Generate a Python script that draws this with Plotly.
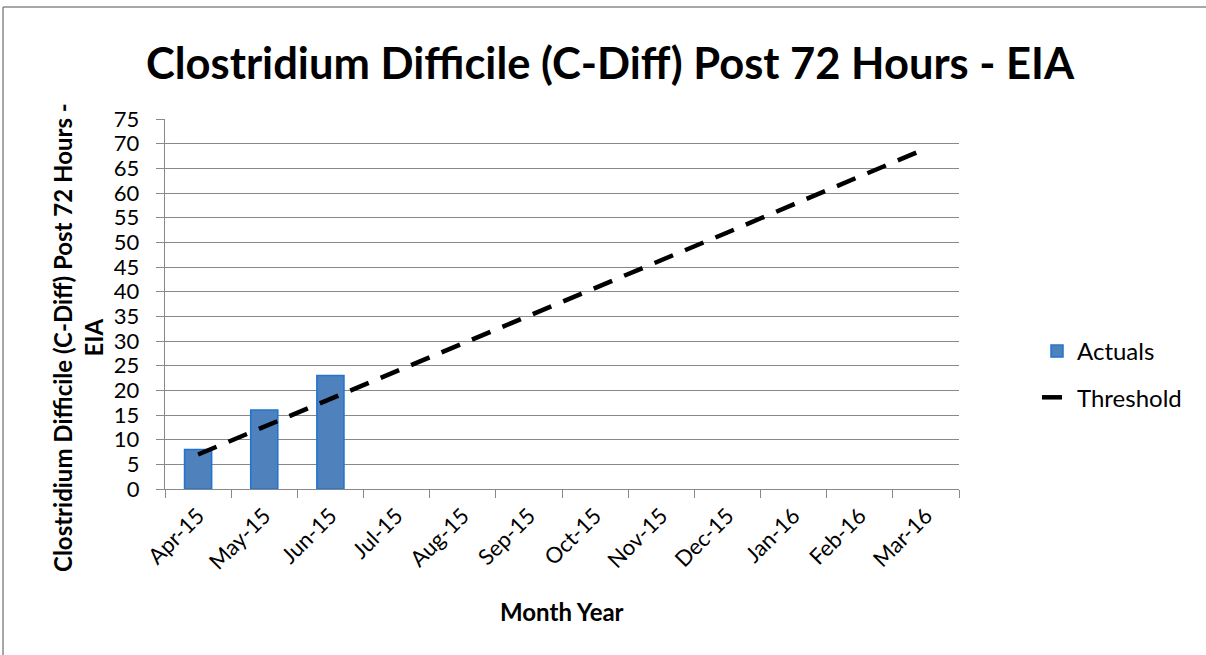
import plotly.graph_objects as go

months = ["Apr-15", "May-15", "Jun-15", "Jul-15", "Aug-15", "Sep-15",
          "Oct-15", "Nov-15", "Dec-15", "Jan-16", "Feb-16", "Mar-16"]
actuals = [8, 16, 23]
actual_months = months[:3]
threshold = [7, 12.6, 18.2, 23.9, 29.5, 35.1, 40.8, 46.4, 52.0, 57.7, 63.3, 69]
y_ticks = list(range(0, 80, 5))

FONT = "Lato"
GRID = "#898989"

L, R, T, B = 165, 959, 119, 489
W, H = 1206, 655
pw, ph = R - L, B - T

def px(x):
    return (x - L) / pw

def py(y):
    return (B - y) / ph

fig = go.Figure()
fig.add_trace(go.Bar(
    x=actual_months, y=actuals, name="Actuals",
    marker=dict(color="#4F81BD", line=dict(color="#1F74D0", width=1.5)),
    width=0.41, legendgroup="a",
))
fig.add_trace(go.Scatter(
    x=months, y=threshold, name="Threshold", mode="lines",
    line=dict(color="black", width=4.5, dash="20px,13px"),
    legendgroup="b",
))

fig.update_layout(
    width=W, height=H,
    margin=dict(l=L, r=W - R, t=T, b=H - B),
    paper_bgcolor="white", plot_bgcolor="white",
    showlegend=True,
    legend=dict(x=px(1037), y=py(329), xanchor="left", yanchor="top",
                font=dict(family=FONT, size=24, color="black"),
                tracegroupgap=12, traceorder="grouped",
                bgcolor="rgba(0,0,0,0)"),
    font=dict(family=FONT, color="black"),
)
fig.update_xaxes(
    type="category", categoryorder="array", categoryarray=months,
    range=[-0.5, 11.5],
    showline=True, linecolor=GRID, linewidth=1.4,
    ticks="outside", tickson="boundaries", ticklen=8, tickcolor=GRID, tickwidth=1.4,
    tickangle=-45, tickfont=dict(family=FONT, size=22, color="black"),
    ticklabelstandoff=4,
    showgrid=False,
)
fig.update_yaxes(
    range=[0, 75], tickvals=y_ticks,
    showline=True, linecolor=GRID, linewidth=1.4,
    ticks="outside", ticklen=8, tickcolor=GRID, tickwidth=1.4,
    showgrid=True, gridcolor=GRID, gridwidth=1.4,
    tickfont=dict(family=FONT, size=22, color="black"),
    ticklabelstandoff=12,
    zeroline=False,
)

fig.add_annotation(
    text="<b>Clostridium Difficile (C-Diff) Post 72 Hours - EIA</b>",
    xref="paper", yref="paper", x=px(610), y=py(62),
    showarrow=False, font=dict(family=FONT, size=43.5, color="black"),
    xanchor="center", yanchor="middle",
)
fig.add_annotation(
    text="<b>Clostridium Difficile (C-Diff) Post 72 Hours -<br>EIA</b>",
    xref="paper", yref="paper", x=px(78), y=py(338),
    showarrow=False, textangle=-90,
    font=dict(family=FONT, size=24, color="black"),
    xanchor="center", yanchor="middle",
)
fig.add_annotation(
    text="<b>Month Year</b>",
    xref="paper", yref="paper", x=px(562), y=py(611),
    showarrow=False,
    font=dict(family=FONT, size=24, color="black"),
    xanchor="center", yanchor="middle",
)

# outer chart border (partially visible)
fig.add_shape(type="line", xref="paper", yref="paper",
              x0=px(3), x1=px(1210), y0=py(7), y1=py(7),
              line=dict(color="#8a8a8a", width=1.5))
fig.add_shape(type="line", xref="paper", yref="paper",
              x0=px(3), x1=px(3), y0=py(7), y1=py(660),
              line=dict(color="#8a8a8a", width=1.5))

fig.write_html("out.html", config={"displayModeBar": False},
               post_script="document.body.style.margin='0';")
